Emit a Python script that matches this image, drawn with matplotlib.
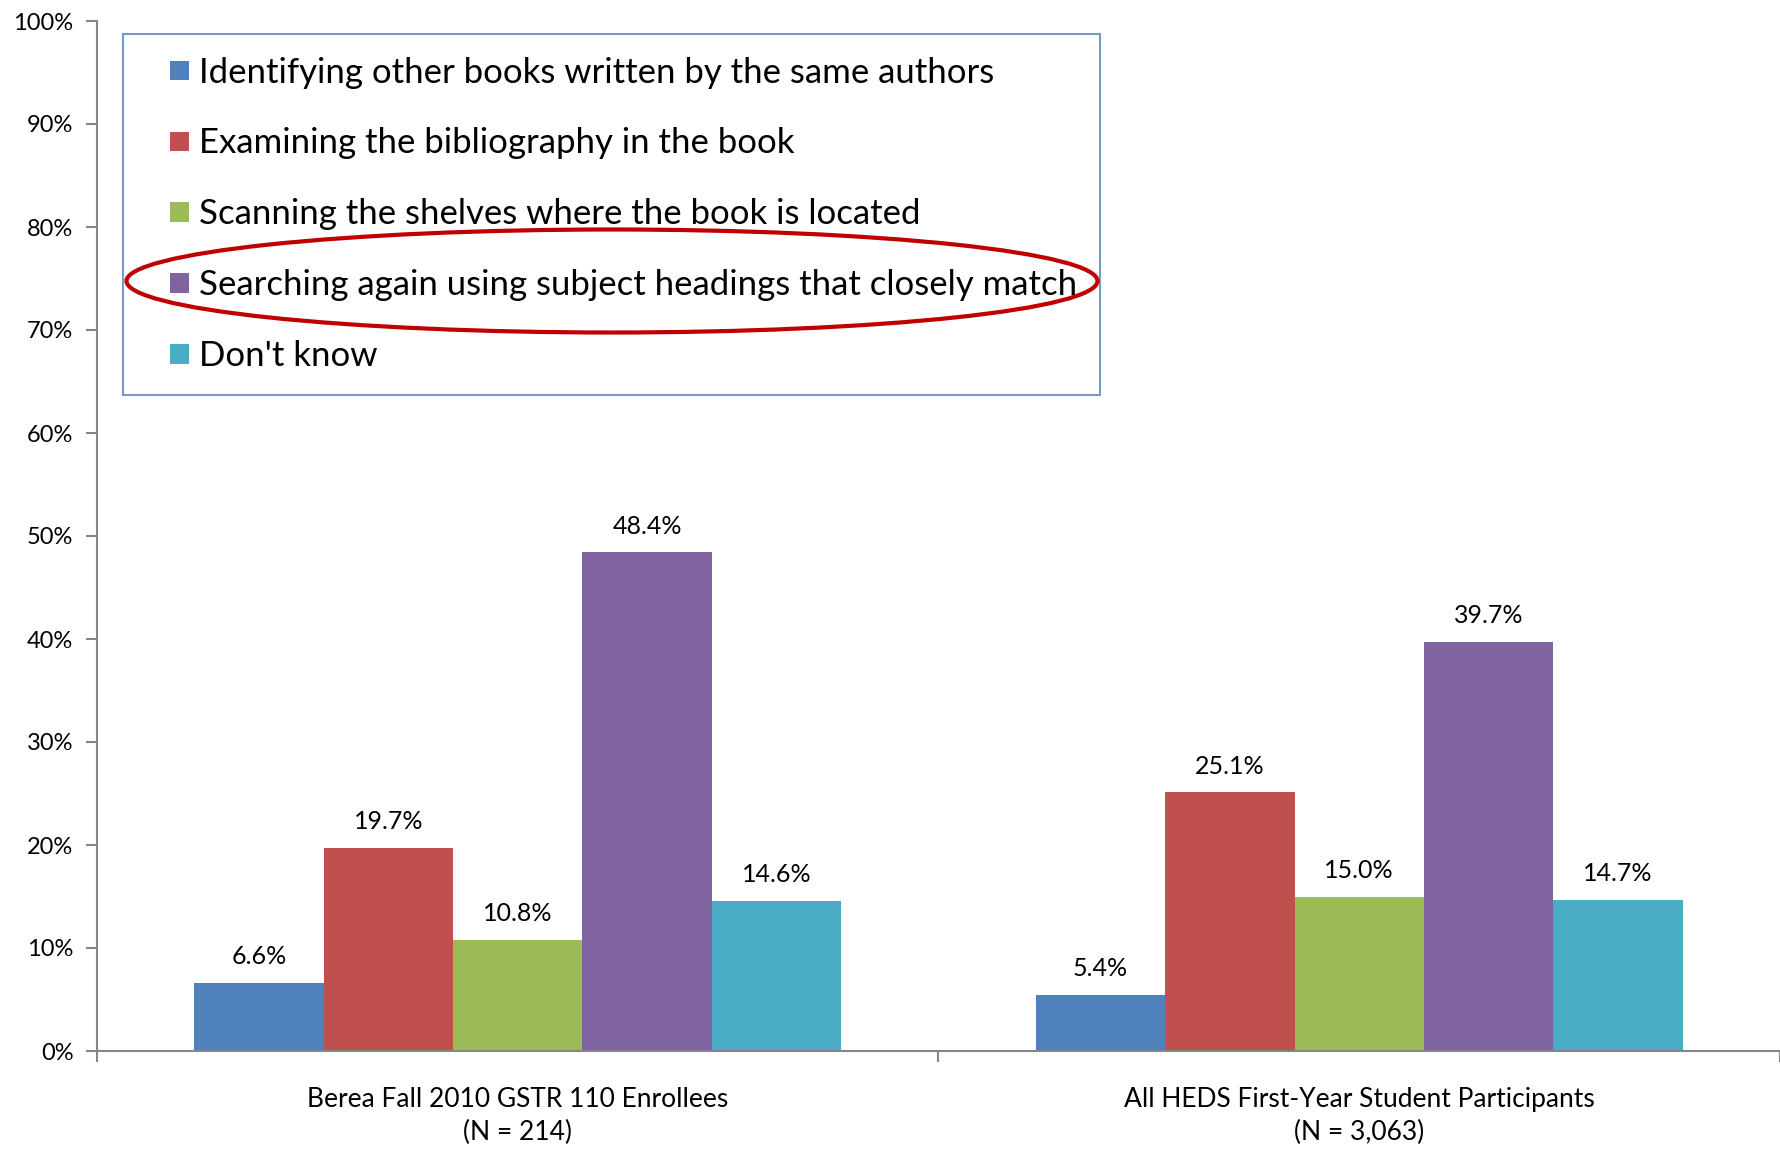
import matplotlib
matplotlib.use("Agg")
import matplotlib.pyplot as plt
from matplotlib.patches import Ellipse, Patch, Rectangle
from matplotlib.legend_handler import HandlerPatch
import numpy as np

plt.rcParams['font.family'] = ['Lato', 'DejaVu Sans']

categories = ["Berea Fall 2010 GSTR 110 Enrollees\n(N = 214)",
              "All HEDS First-Year Student Participants\n(N = 3,063)"]
series_names = ["Identifying other books written by the same authors",
                "Examining the bibliography in the book",
                "Scanning the shelves where the book is located",
                "Searching again using subject headings that closely match",
                "Don't know"]
values = [
    [6.6, 5.4],
    [19.7, 25.1],
    [10.8, 15.0],
    [48.4, 39.7],
    [14.6, 14.7],
]
colors = ["#4F81BD", "#C0504D", "#9BBB59", "#8064A2", "#4BACC6"]
yticks = [0, 10, 20, 30, 40, 50, 60, 70, 80, 90, 100]

W, H = 1781, 1149
fig = plt.figure(figsize=(W / 100, H / 100), dpi=100)
ax = fig.add_axes([97 / W, 1 - 1051 / H, (1780 - 97) / W, (1051 - 21) / H])

n = len(series_names)
gap = 1.5
bw = 1.0 / (n + gap)
x = np.arange(len(categories))
for i, (name, vals, c) in enumerate(zip(series_names, values, colors)):
    pos = x - 0.5 + bw * (gap / 2 + i + 0.5)
    bars = ax.bar(pos, vals, width=bw, color=c, label=name, zorder=2)
    for b, v in zip(bars, vals):
        ax.annotate(f"{v:.1f}%", (b.get_x() + b.get_width() / 2, v),
                    xytext=(0, 19), textcoords="offset points",
                    ha="center", va="center", fontsize=18, color="#000000")

ax.set_xlim(-0.5, len(categories) - 0.5)
ax.set_ylim(0, 100)
ax.set_yticks(yticks)
ax.set_yticklabels([f"{t}%" for t in yticks], fontsize=17)
ax.set_xticks([-0.5, 0.5, 1.5])
ax.set_xticklabels([])
for xi, lab in zip(x, categories):
    ax.text(xi, -3.5, lab, ha="center", va="top", fontsize=19,
            linespacing=1.4, transform=ax.transData)

for s in ["top", "right"]:
    ax.spines[s].set_visible(False)
for s in ["left", "bottom"]:
    ax.spines[s].set_color("#868686")
    ax.spines[s].set_linewidth(1.5)
ax.tick_params(axis="y", direction="out", length=8, width=1.5, color="#868686", pad=9)
ax.tick_params(axis="x", direction="out", length=8, width=1.5, color="#868686")


def square_patch(legend, orig_handle, xdescent, ydescent, width, height, fontsize):
    size = 0.56 * fontsize
    return Rectangle((-xdescent + width - size, -ydescent + (height - size) / 2),
                     size, size)


handles = [Patch(facecolor=c, edgecolor="none") for c in colors]
leg = ax.legend(handles, series_names, loc="upper left",
                bbox_to_anchor=(123 / W, 1 - 34 / H), bbox_transform=fig.transFigure,
                fontsize=25, frameon=True, fancybox=False,
                handlelength=1.25, handleheight=0.7, handletextpad=0.3,
                labelspacing=1.12, borderpad=0.65, borderaxespad=0,
                handler_map={Patch: HandlerPatch(patch_func=square_patch)})
fr = leg.get_frame()
fr.set_edgecolor("#4F81BD")
fr.set_linewidth(1.5)
leg.set_zorder(5)

ell = Ellipse((612 / W, 1 - 281 / H), 971 / W, 103 / H, transform=fig.transFigure,
              fill=False, edgecolor="#C00000", linewidth=3, zorder=10, clip_on=False)
fig.patches.append(ell)

fig.savefig("out.png", dpi=100)
